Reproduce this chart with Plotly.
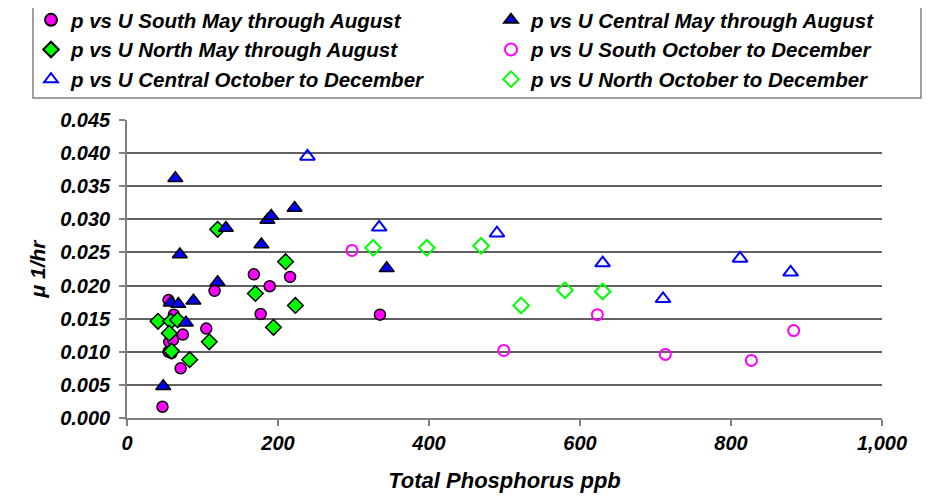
import plotly.graph_objects as go

# South May through August (filled magenta circles)
south_may_x = [47, 71, 55, 59, 56, 61, 74, 105, 62, 55, 116, 168, 189, 177, 216, 335]
south_may_y = [0.0017, 0.0075, 0.0100, 0.0098, 0.0115, 0.0118, 0.0126, 0.0135, 0.0156, 0.0178, 0.0192, 0.0217, 0.0199, 0.0157, 0.0213, 0.0156]

# Central May through August (filled blue triangles)
central_may_x = [48, 58, 68, 88, 78, 120, 64, 131, 70, 178, 186, 191, 222, 344]
central_may_y = [0.0048, 0.0174, 0.0172, 0.0177, 0.0144, 0.0205, 0.0362, 0.0287, 0.0247, 0.0262, 0.0299, 0.0305, 0.0317, 0.0226]

# North May through August (filled green diamonds)
north_may_x = [41, 58, 67, 56, 59, 83, 109, 120, 170, 194, 210, 223]
north_may_y = [0.0146, 0.0146, 0.0148, 0.0128, 0.0101, 0.0088, 0.0115, 0.0285, 0.0188, 0.0137, 0.0236, 0.0170]

# South October to December (open magenta circles)
south_oct_x = [298, 499, 623, 713, 827, 883]
south_oct_y = [0.0253, 0.0102, 0.0156, 0.0096, 0.0087, 0.0132]

# Central October to December (open blue triangles)
central_oct_x = [239, 334, 490, 630, 710, 812, 879]
central_oct_y = [0.0395, 0.0288, 0.0279, 0.0234, 0.0180, 0.0241, 0.0220]

# North October to December (open green diamonds)
north_oct_x = [326, 397, 469, 522, 580, 630]
north_oct_y = [0.0257, 0.0257, 0.0260, 0.0170, 0.0193, 0.0191]

x_ticks = [0, 200, 400, 600, 800, 1000]
y_ticks = [0.000, 0.005, 0.010, 0.015, 0.020, 0.025, 0.030, 0.035, 0.040, 0.045]

FONT = "Liberation Sans, Arial, sans-serif"
MAG = "#FF00FF"
BLUE = "#0000FF"
GREEN = "#00FF00"

fig = go.Figure()

def add(x, y, name, symbol, fill, line_color, size, lw, legend):
    fig.add_trace(go.Scatter(
        x=x, y=y, mode="markers", name=name, legend=legend,
        marker=dict(symbol=symbol, size=size, color=fill,
                    line=dict(color=line_color, width=lw)),
    ))

# left column of legend
add(south_may_x, south_may_y, "p vs U South May through August", "circle", MAG, "black", 11, 1.5, "legend")
add(north_may_x, north_may_y, "p vs U North May through August", "diamond", GREEN, "black", 12, 1.5, "legend")
add(central_oct_x, central_oct_y, "p vs U Central October to December", "triangle-up-open", BLUE, BLUE, 13, 2, "legend")
# right column of legend
add(central_may_x, central_may_y, "p vs U Central May through August", "triangle-up", BLUE, "black", 13, 1.5, "legend2")
add(south_oct_x, south_oct_y, "p vs U South October to December", "circle-open", MAG, MAG, 11, 2, "legend2")
add(north_oct_x, north_oct_y, "p vs U North October to December", "diamond-open", GREEN, GREEN, 12, 2, "legend2")

# page has an 8px body margin: work in screen pixels, convert to figure pixels
OFF = 8
W, H = 936 - OFF, 498 - OFF
L, R, T, B = 127 - OFF, 54, 120 - OFF, 80
PW, PH = W - L - R, H - T - B

def px(v):
    return (v - OFF - L) / PW

def py(v):
    return (H - B - (v - OFF)) / PH

legend_font = dict(family=FONT, size=20.5, color="black", weight="bold", style="italic")
common_leg = dict(orientation="v", yanchor="top", xanchor="left",
                  bgcolor="rgba(0,0,0,0)", borderwidth=0,
                  font=legend_font, itemsizing="constant")

fig.update_layout(
    width=W, height=H,
    margin=dict(l=L, r=R, t=T, b=B, autoexpand=False),
    paper_bgcolor="white", plot_bgcolor="white",
    font=dict(family=FONT, size=20, color="black", weight="bold", style="italic"),
    showlegend=True,
    legend=dict(x=px(31), y=py(0), **common_leg),
    legend2=dict(x=px(491), y=py(0), **common_leg),
    shapes=[dict(type="rect", xref="paper", yref="paper",
                 x0=px(33), x1=px(921), y0=py(98), y1=py(7),
                 line=dict(color="#808080", width=1.5), fillcolor="rgba(0,0,0,0)",
                 layer="below")],
    xaxis=dict(
        range=[0, 1000], tickvals=x_ticks, tickformat=",d",
        showgrid=False, zeroline=False, automargin=False,
        showline=True, linecolor="#808080", linewidth=1.5,
        ticks="outside", ticklen=6, tickcolor="#808080", tickwidth=1.5,
        tickfont=dict(family=FONT, size=20, weight="bold", style="italic"),
        title=dict(text="Total Phosphorus ppb", standoff=20,
                   font=dict(family=FONT, size=22, weight="bold", style="italic")),
    ),
    yaxis=dict(
        range=[0, 0.045], tickvals=y_ticks, tickformat=".3f",
        showgrid=True, gridcolor="#606060", gridwidth=1.5,
        zeroline=False, automargin=False,
        showline=True, linecolor="#808080", linewidth=1.5,
        ticks="outside", ticklen=6, tickcolor="#808080", tickwidth=1.5,
        ticklabelstandoff=5,
        tickfont=dict(family=FONT, size=20, weight="bold", style="italic"),
        title=dict(text="μ 1/hr", standoff=9,
                   font=dict(family=FONT, size=21, weight="bold", style="italic")),
    ),
)

fig.write_html("out.html")
